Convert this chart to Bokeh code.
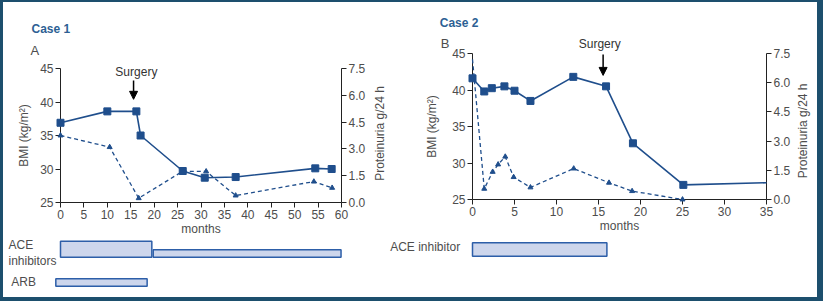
import math
from bokeh.plotting import figure
from bokeh.layouts import row, column
from bokeh.models import (Range1d, LinearAxis, FixedTicker, PrintfTickFormatter,
                          Arrow, NormalHead)
from bokeh.core.properties import value
from bokeh.embed import file_html
from bokeh.resources import INLINE

# ---------------- data ----------------
# Case 1
c1_bmi_months = [0, 10, 16.2, 17.1, 26.1, 30.8, 37.4, 54.4, 57.9]
c1_bmi = [36.9, 38.6, 38.6, 35.0, 29.7, 28.7, 28.8, 30.1, 30.0]
c1_prot_months = [0, 10.5, 16.7, 26.1, 31.1, 37.4, 54.1, 58.0]
c1_prot = [3.75, 3.1, 0.24, 1.75, 1.74, 0.39, 1.17, 0.82]
c1_surgery_month = 15.6
c1_ace_start = [0, 19.8]
c1_ace_end = [19.5, 59.9]
c1_arb_start = [-1.0]
c1_arb_end = [18.5]

# Case 2
c2_bmi_months = [0, 1.4, 2.3, 3.8, 5.0, 6.9, 12.0, 15.9, 19.1, 25.1, 35]
c2_bmi = [41.6, 39.8, 40.25, 40.5, 39.9, 38.5, 41.8, 40.5, 32.7, 27.0, 27.3]
c2_bmi_marked = 10  # number of measured points carrying markers
c2_prot_months = [0, 1.4, 2.4, 3.05, 3.9, 4.9, 6.9, 12.05, 16.25, 19.0, 25.0]
c2_prot = [7.2, 0.55, 1.42, 1.8, 2.2, 1.15, 0.62, 1.59, 0.86, 0.43, 0.0]
c2_surgery_month = 15.55
c2_ace_start = [0]
c2_ace_end = [16]

x_ticks_1 = list(range(0, 61, 5))
x_ticks_2 = list(range(0, 36, 5))
bmi_ticks = [25, 30, 35, 40, 45]
prot_ticks = [0, 1.5, 3.0, 4.5, 6.0, 7.5]

# ---------------- styles ----------------
BLUE = "#1f4e8c"
TXT = "#4d4d4d"
TITLE = "#2d5f94"
FRAME = "#1d4f6d"
BAR_FILL = "#cdd6ec"
BAR_LINE = "#2d5ea8"
FONT = "Liberation Sans"


def style_axis(ax, label_standoff=6):
    ax.axis_line_color = "#222222"
    ax.major_tick_line_color = "#222222"
    ax.major_tick_out = 5
    ax.major_tick_in = 0
    ax.minor_tick_line_color = None
    ax.major_label_text_color = TXT
    ax.major_label_text_font = FONT
    ax.major_label_text_font_size = "12px"
    ax.major_label_standoff = 2
    ax.axis_label_text_color = TXT
    ax.axis_label_text_font = FONT
    ax.axis_label_text_font_size = "12px"
    ax.axis_label_text_font_style = "normal"
    ax.axis_label_standoff = label_standoff


def add_text(p, xs, ys, texts, size="12px", color=TXT, style="normal", align="left",
             angle=0.0, y_range_name="default"):
    p.text(x=xs, y=ys, text=texts, text_font=value(FONT), text_font_size=value(size),
           text_color=color, text_font_style=style, text_align=align, angle=angle,
           text_baseline="middle", level="overlay", y_range_name=y_range_name)


def make_chart(width, height, mb_left, mb_right, mb_top, mb_bottom, xmax, xticks,
               bmi_x, bmi_y, prot_x, prot_y, n_marked, prot_first_marked, surgery,
               surg_label_xy, arrow_y, title, letter, title_xy, letter_xy,
               ylab_standoff, rlab_xy):
    p = figure(width=width, height=height, output_backend="svg", toolbar_location=None,
               x_range=Range1d(0, xmax), y_range=Range1d(25, 45),
               min_border_left=mb_left, min_border_right=mb_right,
               min_border_top=mb_top, min_border_bottom=mb_bottom,
               outline_line_color=None, background_fill_color="white",
               border_fill_color="white")
    p.grid.visible = False
    p.extra_y_ranges = {"prot": Range1d(0, 7.5)}

    p.xaxis.ticker = FixedTicker(ticks=xticks)
    p.xaxis.axis_label = "months"
    p.yaxis.ticker = FixedTicker(ticks=bmi_ticks)
    p.yaxis.axis_label = "BMI (kg/m\u00b2)"
    for ax in p.xaxis:
        style_axis(ax, 0)
    for ax in p.yaxis:
        style_axis(ax, ylab_standoff)

    rax = LinearAxis(y_range_name="prot", ticker=FixedTicker(ticks=prot_ticks),
                     formatter=PrintfTickFormatter(format="%.1f"))
    style_axis(rax)
    p.add_layout(rax, "right")
    # right-axis title, reading bottom to top
    add_text(p, [rlab_xy[0]], [rlab_xy[1]], ["Proteinuria g/24 h"], align="center",
             angle=math.pi / 2)

    # proteinuria (dashed, triangles)
    p.line(prot_x, prot_y, y_range_name="prot", line_color=BLUE, line_width=1.3,
           line_dash="4 3", level="overlay")
    p.scatter(prot_x[prot_first_marked:], prot_y[prot_first_marked:], y_range_name="prot",
              marker="triangle", size=5, fill_color=BLUE, line_color=BLUE, level="overlay")
    # BMI (solid, squares)
    p.line(bmi_x, bmi_y, line_color=BLUE, line_width=1.6, level="overlay")
    p.scatter(bmi_x[:n_marked], bmi_y[:n_marked], marker="square", size=7,
              fill_color=BLUE, line_color=BLUE, level="overlay")

    # Surgery arrow + label
    p.add_layout(Arrow(x_start=surgery, y_start=arrow_y[0], x_end=surgery, y_end=arrow_y[1],
                       line_color="black", line_width=1.5,
                       end=NormalHead(size=8, fill_color="black", line_color="black")))
    add_text(p, [surg_label_xy[0]], [surg_label_xy[1]], ["Surgery"], color="#333333",
             align="center")
    add_text(p, [title_xy[0]], [title_xy[1]], [title], color=TITLE, style="bold")
    add_text(p, [letter_xy[0]], [letter_xy[1]], [letter], size="13px")
    return p


def make_bars(src, width, height, mb_left, mb_right, bars, labels):
    p = figure(width=width, height=height, output_backend="svg", toolbar_location=None,
               x_range=src.x_range, y_range=Range1d(height, 0),
               min_border_left=mb_left, min_border_right=mb_right, min_border_top=0,
               min_border_bottom=0, x_axis_location=None, y_axis_location=None,
               outline_line_color=None, border_fill_color="white")
    p.grid.visible = False
    for (starts, ends, top, bottom) in bars:
        p.quad(left=starts, right=ends, top=[top] * len(starts), bottom=[bottom] * len(starts),
               fill_color=BAR_FILL, line_color=BAR_LINE, line_width=1.5, level="overlay")
    add_text(p, [l[0] for l in labels], [l[1] for l in labels], [l[2] for l in labels])
    return p


# ---------------- layout ----------------
L_W, L_H = 385, 236
L_ML, L_MR, L_MT, L_MB = 57, 47, 66, 36
R_W, R_H = 429, 236
R_ML, R_MR, R_MT, R_MB = 84, 51, 51, 39
BAR_H = 59

c1 = make_chart(L_W, L_H, L_ML, L_MR, L_MT, L_MB, 60, x_ticks_1,
                c1_bmi_months, c1_bmi, c1_prot_months, c1_prot, len(c1_bmi), 0,
                c1_surgery_month, (16.2, 44.55), (43.2, 40.4),
                "Case 1", "A", (-6.2, 50.97), (-6.4, 47.7), 6, (68.3, 35.3))
c2 = make_chart(R_W, R_H, R_ML, R_MR, R_MT, R_MB, 35, x_ticks_2,
                c2_bmi_months, c2_bmi, c2_prot_months, c2_prot, c2_bmi_marked, 1,
                c2_surgery_month, (15.15, 46.27), (44.86, 42.0),
                "Case 2", "B", (-3.9, 49.15), (-3.77, 46.41), 10, (39.3, 34.4))

b1 = make_bars(c1, L_W, BAR_H, L_ML, L_MR,
               [(c1_ace_start[:1], c1_ace_end[:1], 2.7, 18.7),
                (c1_ace_start[1:], c1_ace_end[1:], 11.3, 18.7),
                (c1_arb_start, c1_arb_end, 40.3, 47.7)],
               [(-11.1, 6, "ACE"), (-11.1, 22, "inhibitors"), (-10.5, 43, "ARB")])
b2 = make_bars(c2, R_W, BAR_H, R_ML, R_MR,
               [(c2_ace_start, c2_ace_end, 4.3, 17.7)],
               [(-9.8, 8.7, "ACE inhibitor")])

layout = row(column(c1, b1), column(c2, b2),
             styles={"border-style": "solid", "border-color": FRAME,
                     "border-width": "2px 6px 4px 3px"})

open("out.html", "w").write(file_html(layout, INLINE))
